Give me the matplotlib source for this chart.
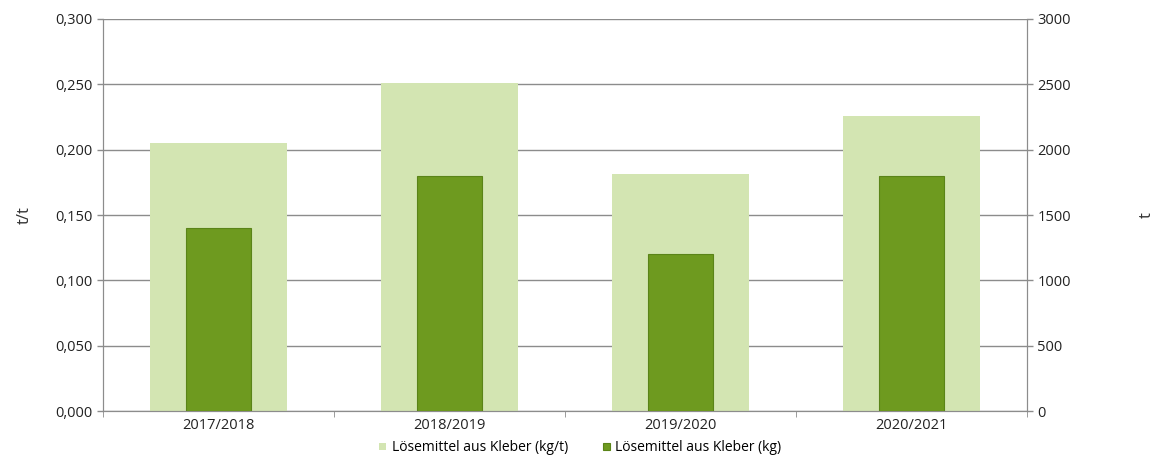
import matplotlib.pyplot as plt
import numpy as np

years = ["2017/2018", "2018/2019", "2019/2020", "2020/2021"]
kg_per_t = [0.205, 0.251, 0.181, 0.226]
kg_total = [1400, 1800, 1200, 1800]

plt.rcParams["font.family"] = ["Open Sans", "DejaVu Sans"]

fig = plt.figure(figsize=(11.61, 4.61), dpi=100)
ax = fig.add_axes([103 / 1161, 50 / 461, 924 / 1161, 392 / 461])
ax2 = ax.twinx()

x = np.arange(len(years))
ax.bar(x, kg_per_t, width=0.59, color="#d3e5b2", zorder=2,
       label="Lösemittel aus Kleber (kg/t)")
ax2.bar(x, kg_total, width=0.285, color="#6e9a1f", edgecolor="#5a8418",
        linewidth=0.8, zorder=3, label="Lösemittel aus Kleber (kg)")

ax.set_xlim(-0.5, 3.5)
ax.set_ylim(0, 0.3)
ax2.set_ylim(0, 3000)
ax.set_yticks(np.arange(0, 0.301, 0.05))
ax.set_yticklabels([f"{v:.3f}".replace(".", ",") for v in np.arange(0, 0.301, 0.05)])
ax2.set_yticks(np.arange(0, 3001, 500))
ax.set_xticks(x)
ax.set_xticklabels(years)
ax.set_xticks(np.arange(-0.5, 3.6, 1), minor=True)

ax.grid(axis="y", color="#8c8c8c", linewidth=1.0, zorder=0)
ax.set_axisbelow(True)
ax2.patch.set_visible(False)

for a in (ax, ax2):
    for s in a.spines.values():
        s.set_color("#8c8c8c")
    a.spines["top"].set_visible(False)
    a.tick_params(colors="#222222", labelsize=10.5, length=4, width=1)
    a.tick_params(axis="y", color="#8c8c8c")
ax.tick_params(axis="x", which="major", length=0, pad=5)
ax.tick_params(axis="x", which="minor", length=4, color="#8c8c8c")

ax.set_ylabel("t/t", fontsize=12, color="#333333", labelpad=16)
ax2.set_ylabel("t", fontsize=12, color="#333333", labelpad=49)

h1, l1 = ax.get_legend_handles_labels()
h2, l2 = ax2.get_legend_handles_labels()
fig.legend(h1 + h2, l1 + l2, loc="lower center", bbox_to_anchor=(0.5, -0.015),
           ncol=2, frameon=False, fontsize=10, handlelength=0.5, handleheight=0.5,
           handletextpad=0.4, columnspacing=2.5)

fig.savefig("out.png", dpi=100)
